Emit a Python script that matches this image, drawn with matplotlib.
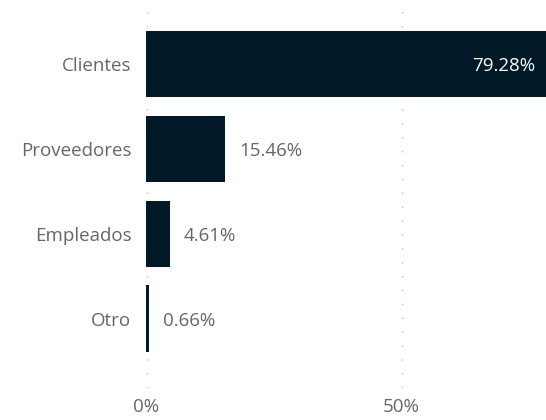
import matplotlib.pyplot as plt

categories = ['Clientes', 'Proveedores', 'Empleados', 'Otro']
values = [79.28, 15.46, 4.61, 0.66]
value_labels = ['79.28%', '15.46%', '4.61%', '0.66%']
xticks = [0, 50]
xtick_labels = ['0%', '50%']

bar_color = '#021927'
text_color = '#666666'

plt.rcParams['font.family'] = ['Open Sans', 'DejaVu Sans']

fig = plt.figure(figsize=(5.46, 4.2), dpi=100)
ax = fig.add_axes([146 / 546, 32 / 420, 400 / 546, 388 / 420])

y = list(range(len(categories)))
ax.barh(y, values, height=0.78, color=bar_color, zorder=2)

xmax = 400 / 5.1
ax.set_xlim(0, xmax)
ax.set_ylim(3.82, -0.76)

for xv in xticks:
    ax.axvline(xv + 0.2, color='#c0c0c0', linewidth=1, linestyle=(0, (1, 9)), zorder=1)

fs = 13.5
for i, (v, lab) in enumerate(zip(values, value_labels)):
    if v > xmax * 0.5:
        ax.text(xmax - 11 / 5.1, i, lab, ha='right', va='center_baseline',
                color='white', fontsize=fs)
    else:
        ax.text(v + 14 / 5.1, i, lab, ha='left', va='center_baseline',
                color=text_color, fontsize=fs)

ax.set_yticks(y)
ax.set_yticklabels(categories, fontsize=fs, color=text_color, va='center_baseline')
ax.set_xticks(xticks)
ax.set_xticklabels(xtick_labels, fontsize=fs, color=text_color)
ax.tick_params(axis='both', length=0)
ax.tick_params(axis='y', pad=10.5)
ax.tick_params(axis='x', pad=7)

for s in ax.spines.values():
    s.set_visible(False)

fig.savefig('out.png', dpi=100)
